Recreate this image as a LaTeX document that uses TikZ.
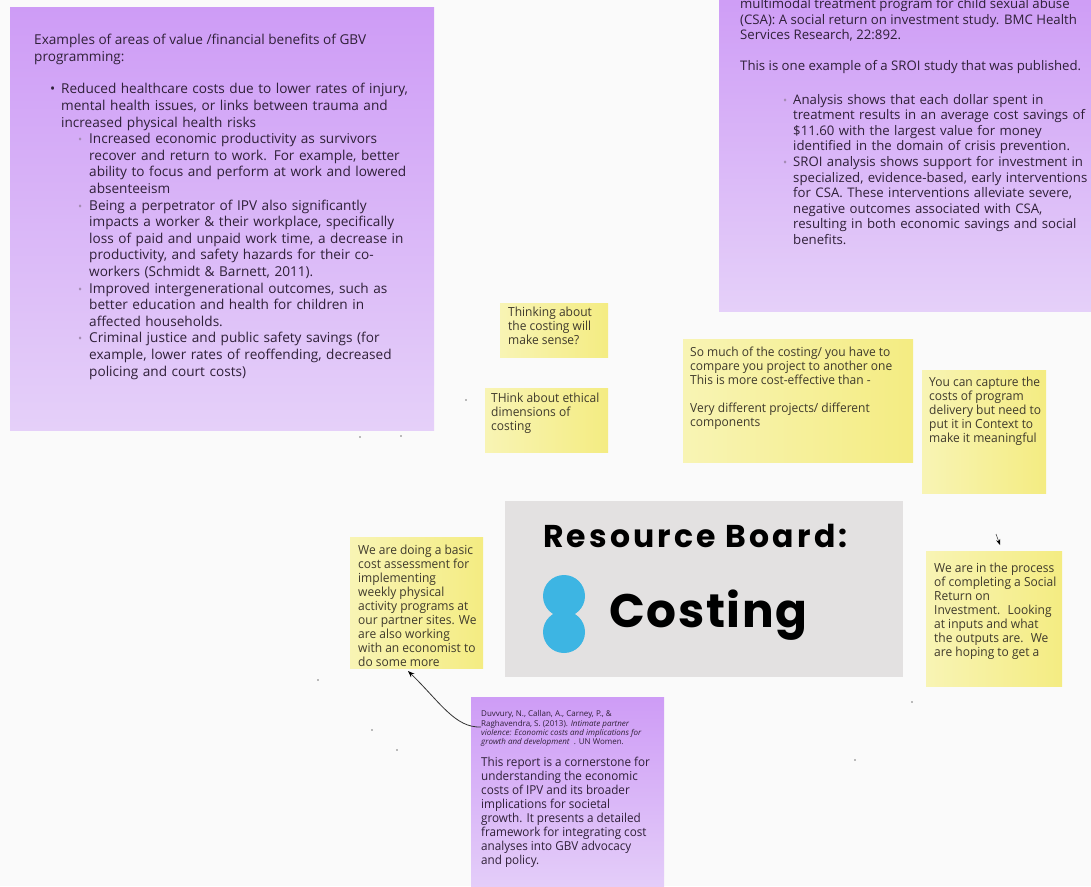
\documentclass[tikz,border=0pt]{standalone}
\usepackage{fontspec}
\setmainfont{Open Sans}
\newfontfamily\stickyfont[FakeStretch=0.96]{Open Sans}
\newfontfamily\citefont[FakeStretch=0.95]{Open Sans}
\newfontfamily\boardfont[LetterSpace=10]{Poppins}
\newfontfamily\costingfont[LetterSpace=3.5]{Poppins}
\usepackage{xcolor}
\usepackage{enumitem}
\usepackage{tikz}
\usetikzlibrary{arrows.meta}

\definecolor{pagebg}{HTML}{FAFAFA}
\definecolor{violettop}{HTML}{CE9CF6}
\definecolor{violetbot}{HTML}{E5D0F9}
\definecolor{stickylight}{HTML}{F8F4B4}
\definecolor{stickydeep}{HTML}{F4EC82}
\definecolor{boardgrey}{HTML}{E3E1E1}
\definecolor{dotblue}{HTML}{3DB5E3}
\definecolor{inkviolet}{HTML}{2F2038}
\definecolor{inkolive}{HTML}{3F3A2C}
\definecolor{subbullet}{HTML}{A58CB4}
\definecolor{speckgrey}{HTML}{7A7A7A}

\newcommand{\bigtext}{\fontsize{13.6}{16.6}\selectfont}
\newcommand{\srtext}{\fontsize{13.2}{15.6}\selectfont}
\newcommand{\notetext}{\stickyfont\fontsize{12.5}{14}\selectfont}
\newcommand{\reftext}{\fontsize{8}{9.4}\selectfont}
\newcommand{\citetext}{\citefont\fontsize{12.3}{14}\selectfont}
\newcommand{\subdot}{{\color{subbullet}\fontsize{11}{11}\selectfont\textbullet}}

\setlist[itemize,1]{nosep,leftmargin=11pt,labelsep=6pt,label={\textbullet}}
\setlist[itemize,2]{nosep,leftmargin=28pt,labelsep=7pt,label={\subdot}}

\tikzset{
  violetnote/.style={rectangle,draw=none,top color=violettop,bottom color=violetbot},
  yellownote/.style={rectangle,draw=none,left color=stickylight,right color=stickydeep},
  boardpanel/.style={rectangle,draw=none,fill=boardgrey},
  violetink/.style={text=inkviolet,align=left},
  oliveink/.style={text=inkolive,align=left,font=\notetext}
}

\begin{document}
\begin{tikzpicture}[x=1pt,y=-1pt]
\useasboundingbox (0,0) rectangle (1091,886);
\clip (0,0) rectangle (1091,886);
\fill[pagebg] (0,0) rectangle (1091,886);

\begin{scope}[every node/.style={anchor=north west,inner sep=0pt}]
    \node[violetnote,minimum width=424,minimum height=423] (benefits) at (10,7) {};
    \node[violetnote,minimum width=380,minimum height=321] (sroi) at (719,-10) {};
    \node[violetnote,minimum width=193,minimum height=200] (report) at (471,697) {};
    \node[yellownote,minimum width=108,minimum height=54] (sense) at (500,303) {};
    \node[yellownote,minimum width=123,minimum height=64] (ethics) at (485,388) {};
    \node[yellownote,minimum width=230,minimum height=123] (compare) at (683,339) {};
    \node[yellownote,minimum width=124,minimum height=123] (context) at (922,370) {};
    \node[yellownote,minimum width=133,minimum height=131] (basic) at (350,537) {};
    \node[yellownote,minimum width=136,minimum height=135] (process) at (926,551) {};
    \node[boardpanel,minimum width=398,minimum height=176] (board) at (505,501) {};
    \end{scope}

\begin{scope}[every node/.style={anchor=north west,inner sep=0pt}]
    \node[violetink,font=\bigtext] (benefitshead) at (34,32.7)
        {\strut Examples of areas of value /financial benefits of GBV\\programming:};
    \node[violetink,font=\bigtext,text width=400] (benefitslist) at (50,77.1) {%
    \begin{itemize}
    \item \strut Reduced healthcare costs due to lower rates of injury,\newline mental health issues, or links between trauma and\newline increased physical health risks
      \begin{itemize}
      \item Increased economic productivity as survivors\newline recover and return to work. For example, better\newline ability to focus and perform at work and lowered\newline absenteeism
      \item Being a perpetrator of IPV also significantly\newline impacts a worker \& their workplace, specifically\newline loss of paid and unpaid work time, a decrease in\newline productivity, and safety hazards for their co-\newline workers (Schmidt \& Barnett, 2011).
      \item Improved intergenerational outcomes, such as\newline better education and health for children in\newline affected households.
      \item Criminal justice and public safety savings (for\newline example, lower rates of reoffending, decreased\newline policing and court costs)
      \end{itemize}
    \end{itemize}};
    \node[violetink,font=\srtext] (sroihead) at (740,-2.6)
        {\strut multimodal treatment program for child sexual abuse\\(CSA): A social return on investment study. BMC Health\\Services Research, 22:892.\\[15.6pt]This is one example of a SROI study that was published.};
    \node[violetink,font=\srtext,text width=360] (sroilist) at (782,88.3) {%
    \begin{itemize}[label={\subdot}]
    \item \strut Analysis shows that each dollar spent in\newline treatment results in an average cost savings of\newline \$11.60 with the largest value for money\newline identified in the domain of crisis prevention.
    \item SROI analysis shows support for investment in\newline specialized, evidence-based, early interventions\newline for CSA. These interventions alleviate severe,\newline negative outcomes associated with CSA,\newline resulting in both economic savings and social\newline benefits.
    \end{itemize}};
    \node[violetink,font=\reftext] (reportref) at (481,709.9)
        {\strut Duvvury, N., Callan, A., Carney, P., \&\\Raghavendra, S. (2013). \textit{Intimate partner}\\\textit{violence: Economic costs and implications for}\\\textit{growth and development}~~. UN Women.};
    \node[violetink,font=\citetext] (reportbody) at (481,756.2)
        {\strut This report is a cornerstone for\\understanding the economic\\costs of IPV and its broader\\implications for societal\\growth. It presents a detailed\\framework for integrating cost\\analyses into GBV advocacy\\and policy.};

    \node[oliveink] (sensetext) at (508,306.2) {\strut Thinking about\\the costing will\\make sense?};
    \node[oliveink] (ethicstext) at (491,392.2) {\strut THink about ethical\\dimensions of\\costing};
    \node[oliveink] (comparetext) at (690,346.2)
        {\strut So much of the costing/ you have to\\compare you project to another one\\This is more cost-effective than -\\[14pt]Very different projects/ different\\components};
    \node[oliveink] (contexttext) at (929,376.2)
        {\strut You can capture the\\costs of program\\delivery but need to\\put it in Context to\\make it meaningful};
    \node[oliveink] (basictext) at (358,544.2)
        {\strut We are doing a basic\\cost assessment for\\implementing\\weekly physical\\activity programs at\\our partner sites. We\\are also working\\with an economist to\\do some more};
    \node[oliveink] (processtext) at (934,562.2)
        {\strut We are in the process\\of completing a Social\\Return on\\Investment.~ Looking\\at inputs and what\\the outputs are.~ We\\are hoping to get a};
    \end{scope}

% board title and logo
\fill[dotblue] (564,632) circle (21);
\fill[dotblue] (564,596) circle (21);
\node[anchor=base west,inner sep=0pt,font=\boardfont\bfseries\fontsize{31.5}{36}\selectfont] (boardtitle) at (543,547) {Resource Board:};
\node[anchor=base west,inner sep=0pt,font=\costingfont\bfseries\fontsize{47}{54}\selectfont] (boardname) at (609,627) {Costing};

\coordinate (basictip) at (408,671);
\coordinate (reportend) at (481,727);
\coordinate (hookstart) at (996,534);
\coordinate (hookend) at (1000,545);

\begin{scope}[>={Stealth[black]}]
    \draw[<-,thick,black!80] (basictip) .. controls (440,702) and (455,728) .. (reportend);
    \draw[->,semithick,black!70] (hookstart) -- (hookend);
    \end{scope}

\foreach \sx/\sy in {466/400,360/437,401/436,318/680,372/730,397/750,912/702,855/760}
    \fill[speckgrey] (\sx,\sy) circle (0.9);

\end{tikzpicture}
\end{document}
